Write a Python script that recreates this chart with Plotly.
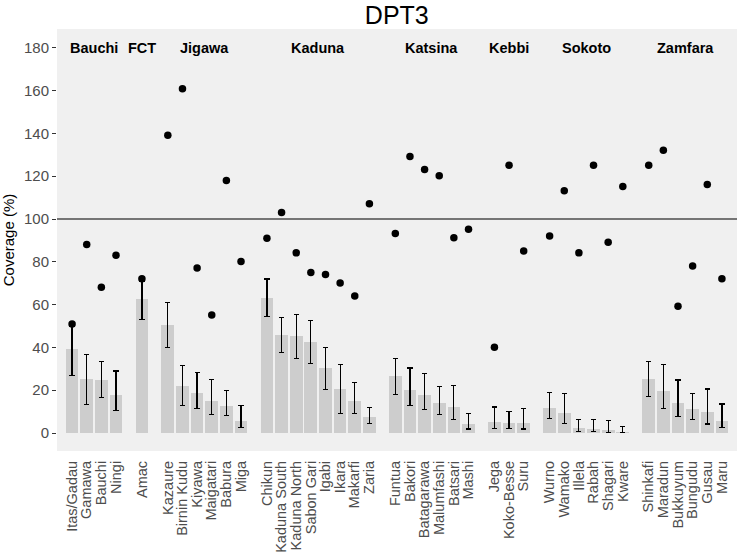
import plotly.graph_objects as go

states = ["Bauchi", "FCT", "Jigawa", "Kaduna", "Katsina", "Kebbi", "Sokoto", "Zamfara"]

lgas = {
    "Bauchi": ["Itas/Gadau", "Gamawa", "Bauchi", "Ningi"],
    "FCT": ["Amac"],
    "Jigawa": ["Kazaure", "Birnin Kudu", "Kiyawa", "Maigatari", "Babura", "Miga"],
    "Kaduna": ["Chikun", "Kaduna South", "Kaduna North", "Sabon Gari", "Igabi", "Ikara", "Makarfi", "Zaria"],
    "Katsina": ["Funtua", "Bakori", "Batagarawa", "Malumfashi", "Batsari", "Mashi"],
    "Kebbi": ["Jega", "Koko-Besse", "Suru"],
    "Sokoto": ["Wurno", "Wamako", "Illela", "Rabah", "Shagari", "Kware"],
    "Zamfara": ["Shinkafi", "Maradun", "Bukkuyum", "Bungudu", "Gusau", "Maru"],
}

# survey coverage (bar), lower / upper CI, administrative coverage (dot)
survey = [39.1, 25.1, 24.8, 17.8,
          62.6,
          50.4, 22.2, 18.6, 15.2, 12.7, 5.6,
          63.3, 45.7, 45.3, 42.5, 30.2, 20.5, 14.9, 7.4,
          26.5, 20.2, 18.0, 14.0, 12.1, 4.0,
          5.1, 4.7, 4.5,
          11.6, 9.5, 2.3, 2.0, 1.4, 0.5,
          25.3, 19.8, 14.0, 11.3, 9.6, 5.7]
ci_low = [26.8, 13.2, 16.6, 10.5,
          53.0,
          39.8, 12.7, 11.6, 8.7, 8.1, 2.5,
          54.4, 37.5, 34.9, 32.4, 20.5, 9.0, 9.0, 4.5,
          18.1, 12.7, 11.0, 8.7, 6.4, 1.9,
          2.0, 2.2, 1.9,
          6.8, 4.5, 0.8, 0.8, 0.3, 0.3,
          16.9, 11.5, 7.6, 6.4, 4.2, 2.5]
ci_high = [49.6, 36.6, 33.3, 29.0,
           71.0,
           60.9, 31.5, 28.2, 25.0, 19.8, 12.7,
           72.0, 54.1, 55.5, 52.7, 40.1, 31.9, 23.7, 11.8,
           35.0, 30.4, 27.9, 21.9, 22.3, 9.3,
           12.2, 10.2, 11.6,
           18.9, 18.6, 6.5, 6.2, 5.9, 3.1,
           33.5, 31.9, 24.8, 18.6, 20.6, 13.6]
admin = [51.0, 88.1, 68.1, 83.1,
         72.1,
         139.1, 160.9, 77.1, 55.2, 118.0, 80.1,
         91.0, 103.1, 84.2, 75.0, 74.1, 70.1, 64.0, 107.1,
         93.2, 129.2, 123.1, 120.2, 91.2, 95.2,
         40.1, 125.1, 85.1,
         92.1, 113.2, 84.2, 125.1, 89.1, 115.2,
         125.1, 132.1, 59.2, 78.1, 116.1, 72.1]

y_ticks = [0, 20, 40, 60, 80, 100, 120, 140, 160, 180]
target = 100

# ---- layout of categories along the axis (style) ----
GROUP_GAP = 1.77
x_pos, labels, centers = [], [], []
cur = 0.0
for gi, s in enumerate(states):
    if gi > 0:
        cur += GROUP_GAP - 1
    start = cur
    for name in lgas[s]:
        x_pos.append(cur)
        labels.append(name)
        cur += 1
    centers.append((start + cur - 1) / 2)

err_plus = [h - v for h, v in zip(ci_high, survey)]
err_minus = [v - l for v, l in zip(survey, ci_low)]

fig = go.Figure()
fig.add_trace(go.Bar(
    x=x_pos, y=survey, width=0.87,
    marker=dict(color="#cdcdcd", line=dict(width=0)),
    error_y=dict(type="data", symmetric=False, array=err_plus, arrayminus=err_minus,
                 color="black", thickness=1.2, width=2.6),
    showlegend=False, hoverinfo="skip",
))
fig.add_trace(go.Scatter(
    x=x_pos, y=admin, mode="markers",
    marker=dict(color="black", size=7.5),
    showlegend=False, hoverinfo="skip", cliponaxis=False,
))

fig.add_shape(type="line", xref="paper", x0=0, x1=1, yref="y", y0=target, y1=target,
              line=dict(color="#4d4d4d", width=1.4), layer="above")

for s, c in zip(states, centers):
    fig.add_annotation(x=c, y=180, text="<b>%s</b>" % s, showarrow=False,
                       font=dict(family="Liberation Sans, Arial", size=14.5, color="black"),
                       xanchor="center", yanchor="middle")

fig.update_layout(
    width=738, height=554,
    margin=dict(l=57, r=1, t=29, b=101),
    paper_bgcolor="white", plot_bgcolor="#f0f0f0",
    font=dict(family="Liberation Sans, Arial", color="#4d4d4d"),
    title=dict(text="DPT3", x=0.5377, xanchor="center", y=0.973, yref="container",
               yanchor="middle", font=dict(size=25, color="black")),
    bargap=0,
)
fig.update_xaxes(
    range=[-1.03, x_pos[-1] + 1.03],
    tickmode="array", tickvals=x_pos, ticktext=labels,
    tickangle=-90, tickfont=dict(size=14.5, color="#4d4d4d"),
    showgrid=False, zeroline=False, ticks="", ticklabelstandoff=6,
    showline=False,
)
fig.update_yaxes(
    range=[-8.4, 188.8],
    tickmode="array", tickvals=y_ticks, ticktext=[str(v) for v in y_ticks],
    tickfont=dict(size=15, color="#4d4d4d"),
    showgrid=False, zeroline=False, ticks="outside", ticklen=4, tickcolor="#333333",
    title=dict(text="Coverage (%)", font=dict(size=15, color="black"), standoff=6),
    showline=False,
)

fig.write_html(
    "out.html",
    config={"displayModeBar": False, "staticPlot": True},
    post_script="document.body.style.margin='0';document.body.style.overflow='hidden';",
)
